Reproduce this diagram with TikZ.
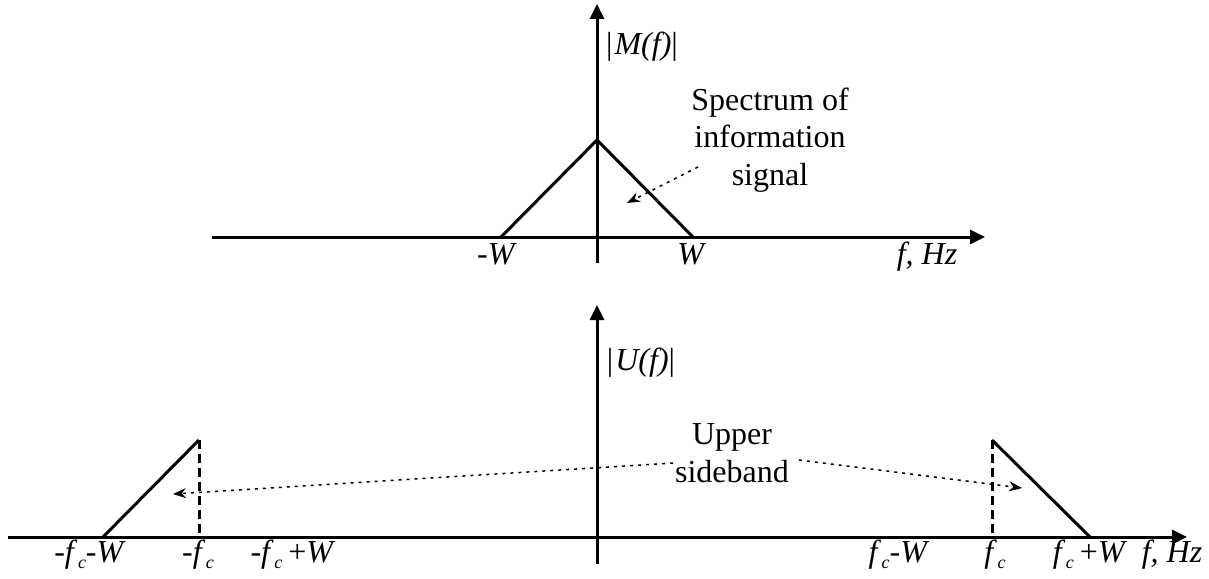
\documentclass[tikz,border=0pt]{standalone}
\usepackage{fontspec}
\setmainfont{Liberation Serif}
\usetikzlibrary{arrows.meta}
\newcommand\fcsub{\textit{f}\kern0.5pt\raisebox{-6pt}{\fontsize{18}{18}\selectfont\textit{c}}}
\begin{document}
\begin{tikzpicture}[x=1pt,y=-1pt,
  font=\fontsize{32}{37.5}\selectfont,
  axis/.style={line width=3pt,-{Triangle[length=15pt,width=14pt]}},
  curve/.style={line width=3pt,line join=miter},
  dashline/.style={line width=3pt,dash pattern=on 9pt off 5pt},
  pointer/.style={line width=1.5pt,dash pattern=on 3pt off 5pt,-{Stealth[length=13pt,width=10pt]}},
  lbl/.style={inner sep=0pt,anchor=base},
  note/.style={inner sep=0pt,align=center}]
\useasboundingbox (0,0) rectangle (1209,578);
% ---- top plot ----
\coordinate (tx0) at (212,237);
\coordinate (tx1) at (985,237);
\coordinate (ty0) at (597,263);
\coordinate (ty1) at (597,4);
\coordinate (tA) at (501,237);
\coordinate (tP) at (597,140);
\coordinate (tB) at (693,237);
\draw[axis] (tx0) -- (tx1);
\draw[axis] (ty0) -- (ty1);
\draw[curve] (tA) -- (tP) -- (tB);
\node[lbl] (mlab) at (642,55) {|\kern2pt\textit{M(f)}|};
\node[note] (spec) at (770,140) {Spectrum of\\information\\signal};
\coordinate (specS) at (698,167);
\coordinate (specE) at (627,203);
\draw[pointer] (specS) -- (specE);
\node[lbl] (mW) at (497,264) {\textit{-W}};
\node[lbl] (pW) at (692,264) {\textit{W}};
\node[lbl] (fhz1) at (927,264) {\textit{f, Hz}};
% ---- bottom plot ----
\coordinate (bx0) at (8,537);
\coordinate (bx1) at (1187,537);
\coordinate (by0) at (597,564);
\coordinate (by1) at (597,305);
\draw[axis] (bx0) -- (bx1);
\draw[axis] (by0) -- (by1);
\coordinate (lA) at (103,537);
\coordinate (lP) at (199,440);
\coordinate (lF) at (199,537);
\coordinate (rP) at (992,440);
\coordinate (rF) at (992,537);
\coordinate (rB) at (1090,537);
\draw[curve] (lA) -- (lP);
\draw[dashline] (lP) -- (lF);
\draw[curve] (rP) -- (rB);
\draw[dashline] (rP) -- (rF);
\node[lbl] (ulab) at (641,370) {|\kern2pt\textit{U(f)}|};
\node[note] (usb) at (732,453) {Upper\\sideband};
\coordinate (uS1) at (673,463);
\coordinate (uE1) at (173,494);
\coordinate (uS2) at (799,460);
\coordinate (uE2) at (1022,488);
\draw[pointer] (uS1) -- (uE1);
\draw[pointer] (uS2) -- (uE2);
\node[lbl] (l1) at (90,562) {\textit{-}\fcsub\textit{-W}};
\node[lbl] (l2) at (198,562) {\textit{-}\fcsub};
\node[lbl] (l3) at (293,562) {\textit{-}\fcsub\kern6pt+\textit{W}};
\node[lbl] (l4) at (899,562) {\fcsub\textit{-W}};
\node[lbl] (l5) at (995,562) {\fcsub};
\node[lbl] (l6) at (1090,562) {\fcsub\kern6pt+\textit{W}};
\node[lbl] (fhz2) at (1172,562) {\textit{f, Hz}};
\end{tikzpicture}
\end{document}
